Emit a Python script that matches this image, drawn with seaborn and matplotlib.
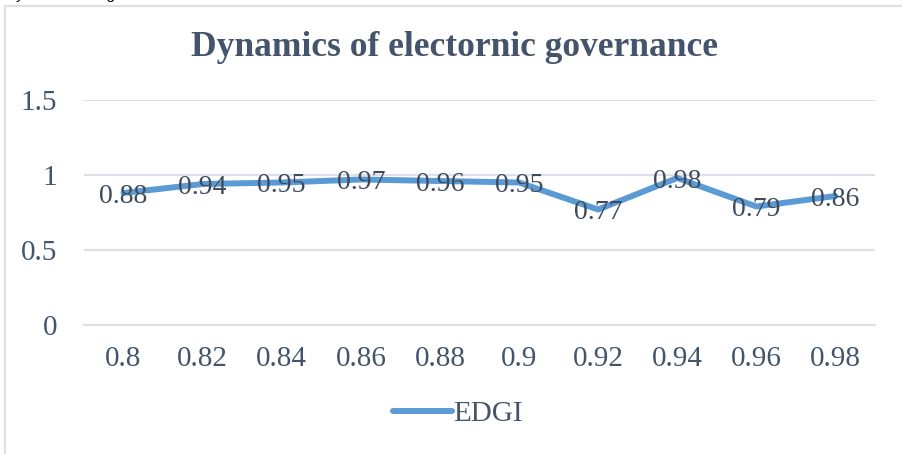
import matplotlib
matplotlib.use('Agg')
import matplotlib.pyplot as plt
import matplotlib.patches as mpatches
import seaborn as sns

# chart data
years = ['0.8', '0.82', '0.84', '0.86', '0.88', '0.9', '0.92', '0.94', '0.96', '0.98']
edgi = [0.88, 0.94, 0.95, 0.97, 0.96, 0.95, 0.77, 0.98, 0.79, 0.86]
y_ticks = [0, 0.5, 1, 1.5]
y_tick_labels = ['0', '0.5', '1', '1.5']

sns.set_style('white')
plt.rcParams['font.family'] = ['Liberation Serif', 'DejaVu Serif']

text_col = '#44546A'
grid_col = '#DDE1E7'
line_col = '#5B9BD5'

W, H = 903, 454
fig = plt.figure(figsize=(W / 100, H / 100), dpi=100)
ax = fig.add_axes([84 / W, 1 - 325 / H, (875 - 84) / W, 225 / H])

sns.lineplot(x=years, y=edgi, ax=ax, color=line_col, linewidth=4.3,
             label='EDGI', sort=False)

# data labels centred on points (slightly below, like the reference)
for i, v in enumerate(edgi):
    ax.annotate(f'{v:g}', (i, v), xytext=(0, -2.5), textcoords='offset points',
                ha='center', va='center', fontsize=20, color='#3F4A5C')

ax.set_xlim(-0.5, len(years) - 0.5)
ax.set_ylim(0, 1.5)
ax.set_yticks(y_ticks)
ax.set_yticklabels(y_tick_labels)
ax.set_xticks(range(len(years)))
ax.set_xticklabels(years)
ax.set_xticks([i - 0.5 for i in range(len(years) + 1)], minor=True)
ax.tick_params(axis='x', which='major', length=0, pad=15, labelsize=21,
               labelcolor=text_col)
ax.tick_params(axis='x', which='minor', length=6, width=1.5, color=grid_col,
               direction='out')
ax.tick_params(axis='y', length=0, pad=19.5, labelsize=21, labelcolor=text_col)
for t in ax.get_yticklabels():
    t.set_ha('right')

ax.grid(axis='y', color=grid_col, linewidth=1.5)
ax.set_axisbelow(True)
for s in ['top', 'right', 'left']:
    ax.spines[s].set_visible(False)
ax.spines['bottom'].set_color(grid_col)
ax.spines['bottom'].set_linewidth(1.5)
ax.set_xlabel('')
ax.set_ylabel('')

ax.get_legend().remove()
handles, labels = ax.get_legend_handles_labels()
fig.legend(handles, labels, loc='center', bbox_to_anchor=(458 / W, 1 - 414 / H),
           frameon=False, fontsize=21, handlelength=2.0, handletextpad=0.05,
           labelcolor=text_col)

fig.text(455 / W, 1 - 48 / H, 'Dynamics of electornic governance',
         ha='center', va='center', fontsize=25.5, fontweight='bold',
         color=text_col)

# chart border (top and left edges visible only)
fig.add_artist(mpatches.Rectangle((5 / W, -0.2), 1.2, 1.2 - 6 / H,
                                  transform=fig.transFigure, fill=False,
                                  edgecolor=grid_col, linewidth=1.5))

# cut-off caption above the chart
fig.text(5 / W, 1.0 + 1 / H, 'Dynamics of e-governance', ha='left',
         va='baseline', fontsize=11, color='black',
         family=['Liberation Sans', 'DejaVu Sans'])

fig.savefig('out.png', dpi=100)
